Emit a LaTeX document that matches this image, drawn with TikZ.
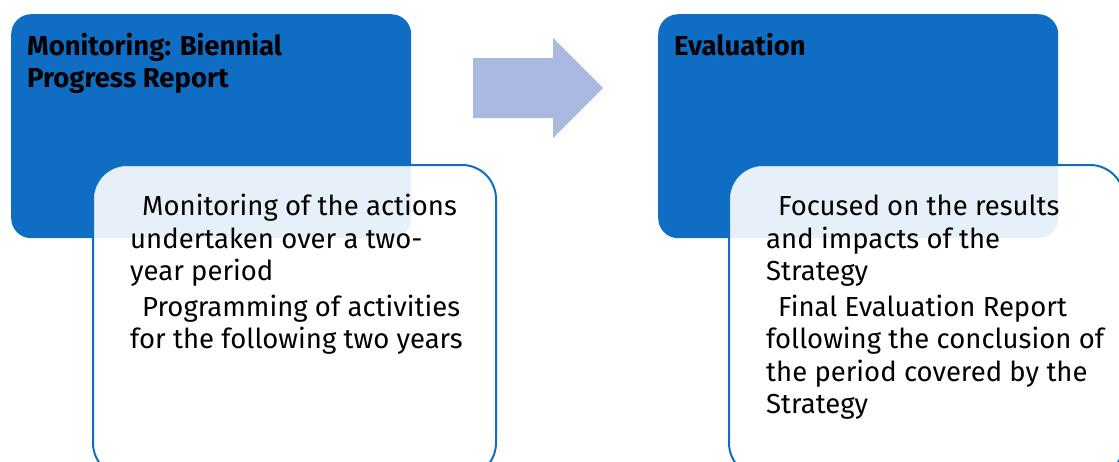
\documentclass[tikz,border=0pt]{standalone}
\usepackage{fontspec}
\setmainfont{Fira Sans}
\definecolor{boxblue}{HTML}{0F6EC4}
\definecolor{arrowblue}{HTML}{A9B9E0}
\tikzset{
  headbox/.style={fill=boxblue, draw=none, rounded corners=20pt},
  bodybox/.style={fill=white, fill opacity=0.9, draw=boxblue, line width=2pt, rounded corners=34pt},
  headtext/.style={anchor=north west, align=left, font=\fontsize{27.5}{32}\selectfont\bfseries, inner sep=0pt},
  bodytext/.style={anchor=north west, align=left, font=\fontsize{27.5}{32.5}\selectfont, inner sep=0pt},
}
\begin{document}
\begin{tikzpicture}[x=1pt,y=-1pt]
\useasboundingbox (0,0) rectangle (1119,461);
\clip (0,0) rectangle (1119,461);
% left
\node[headbox, minimum width=400pt, minimum height=224pt, anchor=north west] (mhead) at (11,14) {};
\node[bodybox, minimum width=403pt, minimum height=312pt, anchor=north west] (mbody) at (92,164) {};
\node[headtext] (mtitle) at (27,33) {Monitoring: Biennial\\Progress Report};
\node[bodytext] (mtext) at (130,194) {\hspace{12pt}Monitoring of the actions\\undertaken over a two-\\year period\\[3pt]\hspace{12pt}Programming of activities\\for the following two years};
% arrow
\fill[arrowblue] (473,58) -- (553,58) -- (553,38) -- (603,88) -- (553,138) -- (553,118) -- (473,118) -- cycle;
% right
\node[headbox, minimum width=400pt, minimum height=224pt, anchor=north west] (ehead) at (658,14) {};
\node[bodybox, minimum width=395pt, minimum height=312pt, anchor=north west] (ebody) at (728,164) {};
\node[headtext] (etitle) at (674,33) {Evaluation};
\node[bodytext] (etext) at (766,195) {\hspace{12pt}Focused on the results\\and impacts of the\\Strategy\\[3pt]\hspace{12pt}Final Evaluation Report\\following the conclusion of\\the period covered by the\\Strategy};
\end{tikzpicture}
\end{document}
